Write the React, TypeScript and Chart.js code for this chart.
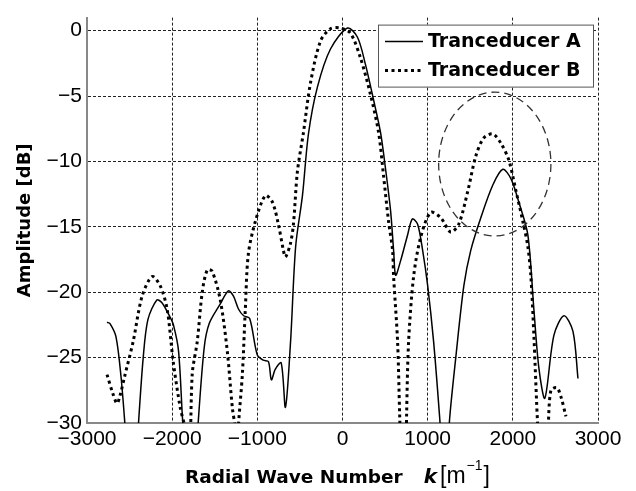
import React, { useEffect, useRef } from "react";
import { Chart, registerables } from "chart.js";

Chart.register(...registerables);

// Tranceducer A (solid)
const aK = [-2765, -2730, -2660, -2600, -2550, -2500, -2440, -2400, -2340, -2285, -2180, -2120, -2025, -1985, -1925, -1870, -1800, -1740, -1700, -1625, -1565, -1435, -1340, -1280, -1220, -1160, -1090, -1000, -930, -870, -835, -790, -720, -670, -610, -550, -470, -400, -294, -141, 59, 176, 270, 365, 447, 506, 565, 600, 624, 682, 765, 820, 882, 941, 1000, 1070, 1140, 1200, 1260, 1330, 1425, 1506, 1624, 1765, 1882, 1976, 2070, 2176, 2247, 2306, 2376, 2482, 2600, 2706, 2765];
const aAmp = [-22.3, -22.4, -23.4, -26.5, -30.5, -35, -35, -30.5, -25.0, -22.1, -20.6, -20.8, -21.9, -22.5, -24.5, -30.5, -35, -35, -30.5, -24.3, -22.4, -20.9, -19.9, -20.3, -21.3, -21.8, -22.0, -24.8, -25.2, -25.3, -26.7, -25.9, -25.4, -28.8, -23.8, -16.5, -12.6, -7.9, -4.3, -1.4, 0.2, -0.5, -2.6, -5.3, -7.8, -10.6, -13.8, -16.8, -18.7, -17.6, -15.6, -14.4, -14.8, -16.8, -19.5, -23.8, -29.5, -35, -29.5, -25.0, -19.5, -16.8, -14.3, -11.8, -10.6, -11.3, -13.1, -15.6, -21.3, -25.8, -28.1, -23.3, -21.8, -23.0, -26.6];

// Tranceducer B (dotted)
const bK = [-2765, -2694, -2647, -2612, -2553, -2459, -2353, -2235, -2141, -2059, -1988, -1906, -1847, -1800, -1765, -1706, -1647, -1588, -1530, -1435, -1353, -1294, -1259, -1240, -1224, -1176, -1141, -1106, -1024, -906, -824, -753, -694, -670, -612, -576, -530, -459, -376, -259, -141, -24, 94, 212, 329, 424, 482, 541, 588, 600, 647, 671, 700, 740, 753, 776, 835, 918, 1035, 1153, 1270, 1365, 1470, 1565, 1659, 1765, 1859, 1953, 2035, 2118, 2176, 2212, 2247, 2294, 2340, 2412, 2447, 2518, 2565, 2624];
const bAmp = [-26.3, -27.8, -28.5, -27.9, -26.3, -23.8, -20.3, -18.8, -19.5, -21.3, -25.3, -28.8, -30.5, -35, -26.3, -23.8, -20.0, -18.3, -18.4, -20.6, -24.5, -28.8, -30.5, -35, -30.5, -26.3, -21.3, -17.1, -14.6, -12.6, -13.1, -14.8, -16.8, -17.3, -16.3, -14.8, -10.8, -7.8, -4.0, -0.8, 0.15, 0.2, -0.2, -2.1, -4.9, -7.8, -11.1, -14.6, -16.8, -18.8, -23.8, -29.3, -35, -35, -29.3, -23.8, -18.8, -15.8, -13.9, -14.3, -15.4, -14.8, -12.3, -9.6, -8.2, -7.9, -8.6, -9.9, -12.2, -14.6, -16.5, -18.8, -23.3, -30.5, -35, -30.5, -27.5, -27.3, -28.0, -29.5];

const xTicks = [-3000, -2000, -1000, 0, 1000, 2000, 3000];
const yTicks = [-30, -25, -20, -15, -10, -5, 0];
const seriesNames = ["Tranceducer A", "Tranceducer B"];
// highlighted region: center k, center dB, radius k, radius dB
const ellipseSpec = [1788, -10.2, 659, 5.5];

const TICK_FONT = "'Liberation Sans', Arial, sans-serif";
const BOLD_FONT = "'DejaVu Sans', sans-serif";

const overlayPlugin = {
  id: "overlay",
  afterDatasetsDraw(chart: any) {
    const { ctx, chartArea, scales } = chart;
    const xs = scales.x;
    const ys = scales.y;
    const cx = xs.getPixelForValue(ellipseSpec[0]);
    const cy = ys.getPixelForValue(ellipseSpec[1]);
    const rx = Math.abs(xs.getPixelForValue(ellipseSpec[0] + ellipseSpec[2]) - cx);
    const ry = Math.abs(ys.getPixelForValue(ellipseSpec[1] + ellipseSpec[3]) - cy);
    ctx.save();
    ctx.beginPath();
    ctx.setLineDash([8, 5]);
    ctx.lineWidth = 1.3;
    ctx.strokeStyle = "#333";
    ctx.ellipse(cx, cy, rx, ry, 0, 0, Math.PI * 2);
    ctx.stroke();
    ctx.restore();

    const bx = chartArea.right - 220;
    const by = chartArea.top + 7;
    const bw = 215;
    const bh = 62;
    ctx.save();
    ctx.fillStyle = "#fff";
    ctx.fillRect(bx, by, bw, bh);
    ctx.strokeStyle = "#555";
    ctx.lineWidth = 1;
    ctx.setLineDash([]);
    ctx.strokeRect(bx + 0.5, by + 0.5, bw, bh);
    const rows = [by + 17, by + 46];
    ctx.beginPath();
    ctx.strokeStyle = "#000";
    ctx.lineWidth = 1.5;
    ctx.moveTo(bx + 7, rows[0]);
    ctx.lineTo(bx + 45, rows[0]);
    ctx.stroke();
    ctx.beginPath();
    ctx.lineWidth = 3;
    ctx.setLineDash([3, 3.5]);
    ctx.moveTo(bx + 7, rows[1]);
    ctx.lineTo(bx + 45, rows[1]);
    ctx.stroke();
    ctx.setLineDash([]);
    ctx.fillStyle = "#000";
    ctx.font = `bold 19px ${BOLD_FONT}`;
    ctx.textBaseline = "middle";
    ctx.textAlign = "left";
    ctx.fillText(seriesNames[0], bx + 50, rows[0]);
    ctx.fillText(seriesNames[1], bx + 50, rows[1]);
    ctx.restore();
  },
  afterDraw(chart: any) {
    const { ctx, chartArea } = chart;
    ctx.save();
    ctx.fillStyle = "#000";
    ctx.font = `bold 18px ${BOLD_FONT}`;
    ctx.translate(25, (chartArea.top + chartArea.bottom) / 2);
    ctx.rotate(-Math.PI / 2);
    ctx.textAlign = "center";
    ctx.textBaseline = "middle";
    ctx.fillText("Amplitude [dB]", 0, 0);
    ctx.restore();

    ctx.save();
    ctx.fillStyle = "#000";
    ctx.textBaseline = "alphabetic";
    ctx.textAlign = "left";
    const base = chartArea.bottom + 60;
    const parts: [string, string, number, number][] = [
      ["Radial Wave Number", `bold 18.5px ${BOLD_FONT}`, 0, 0],
      ["k", `italic bold 20px ${BOLD_FONT}`, 0, 21],
      ["[m", `23px ${TICK_FONT}`, 0, 3],
      ["\u22121", `14px ${TICK_FONT}`, -13, 1],
      ["]", `23px ${TICK_FONT}`, 0, 1],
    ];
    let x = 185;
    for (const [t, f, dy, gap] of parts) {
      x += gap;
      ctx.font = f;
      ctx.fillText(t, x, base + dy);
      x += ctx.measureText(t).width;
    }
    ctx.restore();
  },
};

export default function App() {
  const ref = useRef<HTMLCanvasElement | null>(null);
  useEffect(() => {
    if (!ref.current) return;
    const chart = new Chart(ref.current, {
      type: "line",
      data: {
        datasets: [
          {
            label: seriesNames[0],
            data: aK.map((k, i) => ({ x: k, y: aAmp[i] })),
            borderColor: "#000",
            borderWidth: 1.5,
            pointRadius: 0,
            tension: 0.3,
          },
          {
            label: seriesNames[1],
            data: bK.map((k, i) => ({ x: k, y: bAmp[i] })),
            borderColor: "#000",
            borderWidth: 3,
            borderDash: [3, 3.5],
            pointRadius: 0,
            tension: 0.3,
          },
        ],
      },
      options: {
        animation: false,
        responsive: false,
        maintainAspectRatio: false,
        layout: { padding: { top: 9, right: 38, left: 0, bottom: 0 } },
        plugins: { legend: { display: false }, tooltip: { enabled: false } },
        scales: {
          x: {
            type: "linear",
            min: -3000,
            max: 3000,
            afterBuildTicks: (s: any) => {
              s.ticks = xTicks.map((v) => ({ value: v }));
            },
            afterFit: (s: any) => {
              s.height = 68;
            },
            ticks: {
              font: { family: TICK_FONT, size: 21 },
              color: "#000",
              padding: 4,
              maxRotation: 0,
              callback: (v: any) => String(v).replace("-", "\u2212"),
            },
            grid: { color: "#222", lineWidth: 1, tickLength: 0 },
            border: { display: true, color: "#888", width: 2, dash: [3, 2] },
          },
          y: {
            type: "linear",
            min: -30,
            max: 1,
            afterBuildTicks: (s: any) => {
              s.ticks = yTicks.map((v) => ({ value: v }));
            },
            afterFit: (s: any) => {
              s.width = 87;
            },
            ticks: {
              font: { family: TICK_FONT, size: 21 },
              color: "#000",
              padding: 5,
              callback: (v: any) => String(v).replace("-", "\u2212"),
            },
            grid: { color: "#222", lineWidth: 1, tickLength: 0 },
            border: { display: true, color: "#888", width: 2, dash: [3, 2] },
          },
        },
      } as any,
      plugins: [overlayPlugin],
    });
    return () => chart.destroy();
  }, []);
  return (
    <div style={{ position: "fixed", left: 0, top: 0, width: 636, height: 491, background: "#fff" }}>
      <canvas ref={ref} width={636} height={491} />
    </div>
  );
}
